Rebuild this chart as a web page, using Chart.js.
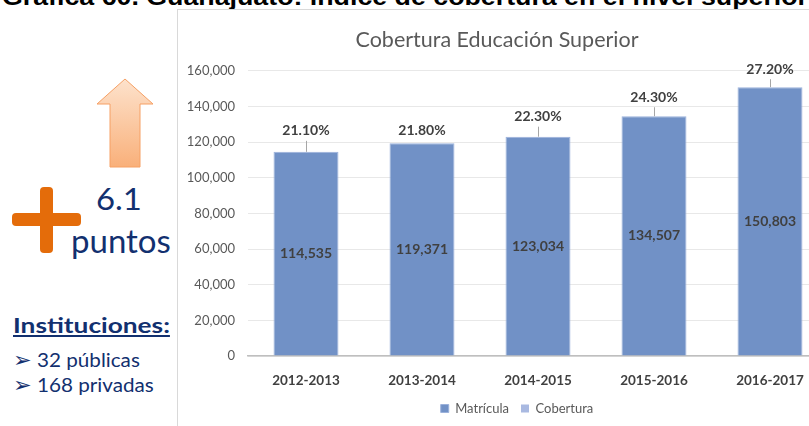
<!DOCTYPE html>
<html>
<head>
<meta charset="utf-8">
<script src="https://cdn.jsdelivr.net/npm/chart.js@4"></script>
<style>
html,body{margin:0;padding:0;background:#fff;width:809px;height:426px;overflow:hidden;position:relative}
.abs{position:absolute;white-space:nowrap;transform-origin:left top}
#heading{left:2px;top:-15px;font:bold 24px "Liberation Sans",Arial,sans-serif;color:#000;line-height:24px;transform:scaleX(1.115)}
#frame{position:absolute;left:177px;top:9px;width:700px;height:430px;border-left:1px solid #d9d9d9;border-top:1px solid #d9d9d9}
#box{position:absolute;left:0;top:0;width:650px;height:416px}
.navy{color:#12306f;font-family:Lato,"Open Sans",sans-serif;line-height:24px}
.bul{font-family:'DejaVu Sans';font-size:21px}
</style>
</head>
<body>
<div id="heading" class="abs">Gráfica 60. Guanajuato: índice de cobertura en el nivel superior</div>

<svg class="abs" style="left:0;top:0" width="177" height="426">
  <defs>
    <linearGradient id="ag" x1="0" y1="0" x2="0" y2="1">
      <stop offset="0" stop-color="#fde2cc"/>
      <stop offset="1" stop-color="#f9b07a"/>
    </linearGradient>
  </defs>
  <path d="M125,79 L153,104 L140,104 L140,167 L110,167 L110,104 L97,104 Z" fill="url(#ag)" stroke="#f6a065" stroke-width="1"/>
  <rect x="12" y="213" width="69" height="13" rx="4" fill="#e46c0a"/>
  <rect x="40" y="187" width="13" height="66" rx="4" fill="#e46c0a"/>
</svg>
<div class="abs navy" style="left:96px;top:180px;font-size:31px;line-height:36px;transform:scaleX(1.06)">6.1</div>
<div class="abs navy" style="left:71px;top:221px;font-size:33px;line-height:38px">puntos</div>
<div class="abs navy" style="left:13px;top:313px;font-size:21px;font-weight:bold;text-decoration:underline;transform:scaleX(1.25)">Instituciones:</div>
<div class="abs navy" style="left:13px;top:348px;font-size:19.5px;transform:scaleX(1.06)"><span class="bul">➢</span> 32 públicas</div>
<div class="abs navy" style="left:13px;top:373px;font-size:19.5px;transform:scaleX(1.06)"><span class="bul">➢</span> 168 privadas</div>

<div id="frame"><div id="box"><canvas id="c"></canvas></div></div>

<script>
const years=['2012-2013','2013-2014','2014-2015','2015-2016','2016-2017']
const matricula=[114535,119371,123034,134507,150803]
const cobertura=[21.1,21.8,22.3,24.3,27.2]
const yMax=160000
const yStep=20000

const fmt=v=>Number(v).toLocaleString('en-US')

const barLabels={
  id:'barLabels',
  afterLayout(chart,args,opts){
    // title and legend sit a little off the canvas centre in the original
    const t=chart.titleBlock,l=chart.legend
    if(t){t.left+=opts.titleShift;t.right+=opts.titleShift}
    if(l){l.left+=opts.legendShift;l.right+=opts.legendShift}
  },
  afterDatasetsDraw(chart,args,opts){
    const ctx=chart.ctx
    const bars=chart.getDatasetMeta(0).data
    ctx.save()
    ctx.font='bold 14px Lato'
    ctx.fillStyle='#404040'
    ctx.textAlign='center'
    ctx.textBaseline='middle'
    bars.forEach((b,i)=>{
      ctx.fillText(fmt(matricula[i]),b.x,(b.y+b.base)/2)
      const lift=opts.lift[i]
      const ly=b.y-lift
      ctx.fillText(cobertura[i].toFixed(2)+'%',b.x,ly)
      if(lift>15){
        ctx.strokeStyle='#a6a6a6'
        ctx.lineWidth=1
        ctx.beginPath()
        ctx.moveTo(b.x+0.5,ly+10)
        ctx.lineTo(b.x+0.5,b.y)
        ctx.stroke()
      }
    })
    ctx.restore()
  }
}

new Chart(document.getElementById('c'),{
  type:'bar',
  data:{labels:years,datasets:[
    {label:'Matrícula',data:matricula,backgroundColor:'#7191c6',borderColor:'#9bb1db',borderWidth:1,barPercentage:0.56,categoryPercentage:1},
    {label:'Cobertura',data:cobertura,backgroundColor:'#a9b9e1',borderWidth:0,barPercentage:0.56,categoryPercentage:1}
  ]},
  options:{
    responsive:true,maintainAspectRatio:false,animation:false,
    layout:{padding:{top:0,bottom:1,left:0,right:0}},
    plugins:{
      title:{display:true,text:'Cobertura Educación Superior',color:'#595959',font:{family:'Lato',size:21.5,weight:'normal'},padding:{top:17,bottom:18}},
      legend:{position:'bottom',labels:{color:'#595959',font:{family:'Lato',size:13},boxWidth:8,boxHeight:8,padding:12}},
      tooltip:{enabled:false},
      barLabels:{lift:[21,13,20,19,18],titleShift:-6,legendShift:14}
    },
    scales:{
      x:{stacked:true,grid:{display:false,drawTicks:false},border:{color:'#bfbfbf',width:1.5},
        ticks:{color:'#404040',padding:17,font:{family:'Lato',size:13.5,weight:'bold'}},
        afterFit:s=>{s.height=34}},
      y:{stacked:true,min:0,max:yMax,grid:{color:'#e8e8e8',drawTicks:false},border:{display:false},
        ticks:{stepSize:yStep,padding:13,color:'#595959',font:{family:'Lato',size:13},callback:v=>fmt(v)},
        afterFit:s=>{s.width=70}}
    }
  },
  plugins:[barLabels]
})
</script>
</body>
</html>
